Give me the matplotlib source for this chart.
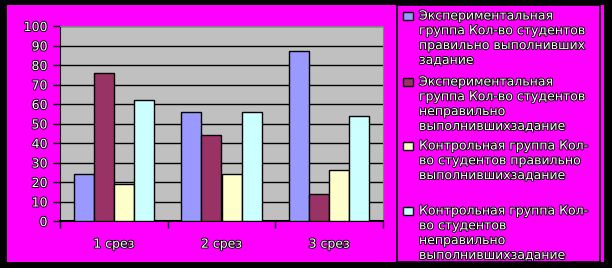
import matplotlib.pyplot as plt
import matplotlib.patheffects as pe
from matplotlib.patches import Rectangle
import numpy as np

# ---- data ----
categories = ['1 срез', '2 срез', '3 срез']
exp_right = [24, 56, 87]
exp_wrong = [76, 44, 14]
ctrl_right = [19, 24, 26]
ctrl_wrong = [62, 56, 54]

labels = ['Экспериментальная\nгруппа Кол-во студентов\nправильно выполнивших\nзадание',
          'Экспериментальная\nгруппа Кол-во студентов\nнеправильно\nвыполнившихзадание',
          'Контрольная группа Кол-\nво студентов правильно\nвыполнившихзадание',
          'Контрольная группа Кол-\nво студентов\nнеправильно\nвыполнившихзадание']
colors = ['#9999FF', '#993366', '#FFFFCC', '#CCFFFF']

W, H = 612, 268
outline = [pe.withStroke(linewidth=1.3, foreground='black')]

fig = plt.figure(figsize=(W / 100, H / 100), dpi=100, facecolor='black')

# magenta chart area inside the black frame
fig.patches.append(Rectangle((7 / W, 6 / H), 597 / W, 257 / H, transform=fig.transFigure,
                             facecolor='#FF00FF', edgecolor='none', zorder=-5))

ax = fig.add_axes([60 / W, 47 / H, 323 / W, 195 / H])
ax.set_facecolor('#C0C0C0')

series = [exp_right, exp_wrong, ctrl_right, ctrl_wrong]
x = np.arange(len(categories))
bw = 0.186
for i, vals in enumerate(series):
    ax.bar(x + (i - 1.5) * bw, vals, bw, color=colors[i], edgecolor='black',
           linewidth=1.0, zorder=3)

ax.set_xlim(-0.5, 2.5)
ax.set_ylim(0, 100)
ax.set_yticks(range(0, 101, 10))
ax.yaxis.grid(True, color='black', linewidth=1.0, zorder=1)
ax.set_axisbelow(True)

ax.set_xticks(x)
ax.set_xticklabels(categories)
ax.set_xticks([-0.5, 0.5, 1.5, 2.5], minor=True)
ax.tick_params(axis='x', which='major', length=0, pad=12)
ax.tick_params(axis='x', which='minor', length=5, width=1, color='black', direction='out')
ax.tick_params(axis='y', length=5, width=1, color='black', direction='out', pad=4)

for lab in ax.get_xticklabels() + ax.get_yticklabels():
    lab.set_fontsize(9)
    lab.set_color('white')
    lab.set_path_effects(outline)

for s in ['top', 'right']:
    ax.spines[s].set_color('#808080')
ax.spines['left'].set_color('black')
ax.spines['bottom'].set_color('black')
ax.spines['bottom'].set_linewidth(1.5)

# ---- legend box drawn by hand ----
fig.patches.append(Rectangle((397 / W, 6 / H), 203 / W, 257 / H, transform=fig.transFigure,
                             facecolor='none', edgecolor='black', linewidth=1.2, zorder=5))
first_lines = [16, 82, 146, 211]
step = 14.8
for lab, col, y0 in zip(labels, colors, first_lines):
    fig.patches.append(Rectangle((403 / W, (H - y0 - 4) / H), 10 / W, 8 / H,
                                 transform=fig.transFigure, facecolor=col,
                                 edgecolor='black', linewidth=1.0, zorder=6))
    for k, line in enumerate(lab.split('\n')):
        fig.text(419 / W, (H - y0 - k * step) / H, line, fontsize=9, color='white',
                 va='center', ha='left', path_effects=outline)

fig.savefig('out.png', dpi=100, facecolor='black')
